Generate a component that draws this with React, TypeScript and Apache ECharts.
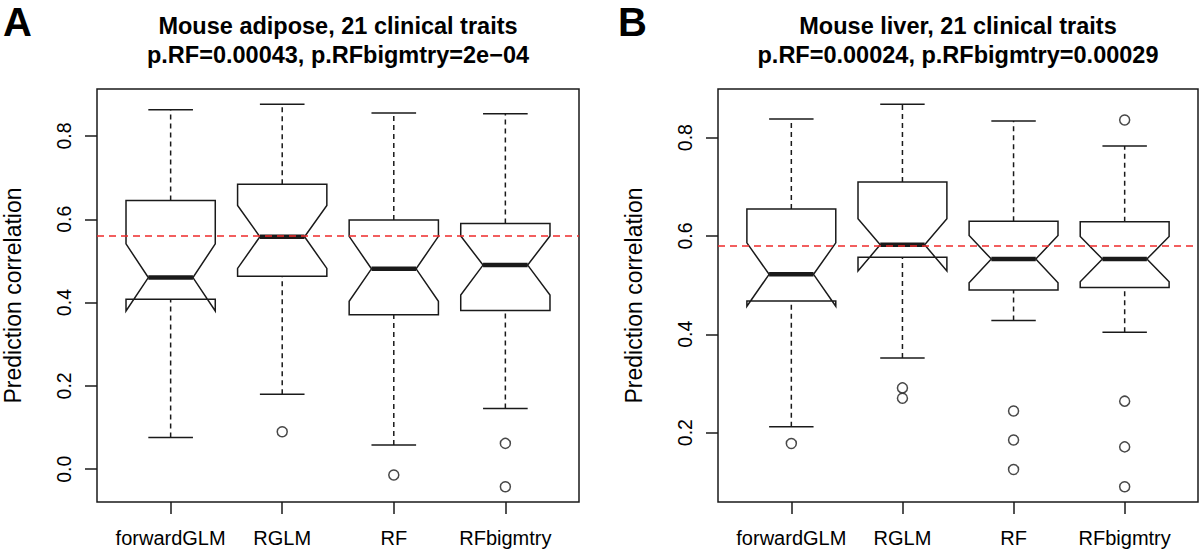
import React, { useEffect, useRef } from 'react';
import * as echarts from 'echarts';

const categories = ['forwardGLM', 'RGLM', 'RF', 'RFbigmtry'];

// per box: [lowWhisker, Q1, notchLow, median, notchHigh, Q3, highWhisker]
const adiposeBoxes = [
  [0.076, 0.408, 0.380, 0.460, 0.541, 0.645, 0.863],
  [0.180, 0.463, 0.482, 0.558, 0.633, 0.684, 0.876],
  [0.058, 0.371, 0.403, 0.481, 0.559, 0.598, 0.855],
  [0.146, 0.381, 0.418, 0.490, 0.560, 0.590, 0.853],
];
const adiposeOutliers = [[], [0.090], [-0.014], [0.062, -0.042]];
const adiposeRefLine = 0.558;
const adiposeTicks = [0, 0.2, 0.4, 0.6, 0.8];
const adiposeRange = [-0.0787, 0.9127];

const liverBoxes = [
  [0.212, 0.468, 0.457, 0.522, 0.586, 0.655, 0.838],
  [0.352, 0.557, 0.529, 0.582, 0.635, 0.710, 0.868],
  [0.428, 0.490, 0.505, 0.553, 0.601, 0.630, 0.834],
  [0.404, 0.495, 0.507, 0.553, 0.599, 0.629, 0.783],
];
const liverOutliers = [[0.178], [0.291, 0.270], [0.244, 0.185, 0.125], [0.836, 0.264, 0.171, 0.090]];
const liverRefLine = 0.582;
const liverTicks = [0.2, 0.4, 0.6, 0.8];
const liverRange = [0.0589, 0.899];

const panelLetters = ['A', 'B'];
const titleLines1 = ['Mouse adipose, 21 clinical traits', 'Mouse liver, 21 clinical traits'];
const titleLines2 = ['p.RF=0.00043, p.RFbigmtry=2e\u221204', 'p.RF=0.00024, p.RFbigmtry=0.00029'];
const yAxisName = 'Prediction correlation';

const FONT = '"Liberation Sans", Arial, Helvetica, sans-serif';
const INK = '#1a1a1a';
const RED = '#ee2a2a';

const grids = [
  { left: 97, top: 89, width: 482, height: 413 },
  { left: 718, top: 89, width: 480, height: 413 },
];

function renderBox(params: any, api: any) {
  const x = api.value(0);
  const wLo = api.value(1), q1 = api.value(2), nLo = api.value(3), med = api.value(4);
  const nHi = api.value(5), q3 = api.value(6), wHi = api.value(7);
  const W = 0.4, NW = 0.2, CAP = 0.2;
  const P = (dx: number, y: number) => api.coord([x + dx, y]);
  const seg = (a: number[], b: number[], style: any) => ({
    type: 'line',
    shape: { x1: a[0], y1: a[1], x2: b[0], y2: b[1] },
    style: Object.assign({ stroke: INK, lineWidth: 1.5 }, style),
  });
  return {
    type: 'group',
    children: [
      seg(P(0, wLo), P(0, q1), { lineDash: [5, 4] }),
      seg(P(0, q3), P(0, wHi), { lineDash: [5, 4] }),
      seg(P(-CAP, wLo), P(CAP, wLo), {}),
      seg(P(-CAP, wHi), P(CAP, wHi), {}),
      {
        type: 'polygon',
        shape: {
          points: [
            P(-W, q1), P(W, q1), P(W, nLo), P(NW, med), P(W, nHi), P(W, q3),
            P(-W, q3), P(-W, nHi), P(-NW, med), P(-W, nLo),
          ],
        },
        style: { fill: '#fff', stroke: INK, lineWidth: 1.5 },
      },
      seg(P(-NW, med), P(NW, med), { lineWidth: 4.5 }),
    ],
  };
}

export default function App() {
  const ref = useRef<HTMLDivElement>(null);
  useEffect(() => {
    if (!ref.current) return;
    const chart = echarts.init(ref.current, undefined, { renderer: 'svg' });
    const panels = [
      { boxes: adiposeBoxes, outliers: adiposeOutliers, refLine: adiposeRefLine, ticks: adiposeTicks, range: adiposeRange },
      { boxes: liverBoxes, outliers: liverOutliers, refLine: liverRefLine, ticks: liverTicks, range: liverRange },
    ];
    const catPos = categories.map((_, i) => i + 1);
    const option: any = {
      animation: false,
      grid: grids.map((g) => ({ ...g, show: true, borderColor: INK, borderWidth: 1.5, backgroundColor: 'transparent' })),
      xAxis: panels.map((_, k) => ({
        type: 'value',
        gridIndex: k,
        min: 0.34,
        max: 4.66,
        position: 'bottom',
        splitLine: { show: false },
        axisLine: { show: false, onZero: false },
        axisTick: { show: true, customValues: catPos, length: 12, lineStyle: { color: INK, width: 1.5 } },
        axisLabel: {
          customValues: catPos,
          formatter: (v: number) => categories[Math.round(v) - 1],
          fontSize: 20,
          color: '#000',
          margin: 26,
          fontFamily: FONT,
        },
      })),
      yAxis: panels.map((p, k) => ({
        type: 'value',
        gridIndex: k,
        min: p.range[0],
        max: p.range[1],
        position: 'left',
        splitLine: { show: false },
        axisLine: { show: false, onZero: false },
        axisTick: { show: true, customValues: p.ticks, length: 12, lineStyle: { color: INK, width: 1.5 } },
        axisLabel: {
          customValues: p.ticks,
          formatter: (v: number) => v.toFixed(1),
          rotate: 90,
          fontSize: 19.5,
          color: '#000',
          margin: 23,
          fontFamily: FONT,
        },
        name: yAxisName,
        nameLocation: 'middle',
        nameRotate: 90,
        nameGap: 73,
        nameTextStyle: { fontSize: 23, color: '#000', fontFamily: FONT },
      })),
      series: [] as any[],
      graphic: [] as any[],
    };
    panels.forEach((p, k) => {
      option.series.push({
        type: 'custom',
        xAxisIndex: k,
        yAxisIndex: k,
        renderItem: renderBox,
        data: p.boxes.map((b, i) => [i + 1, ...b]),
        z: 2,
      });
      const pts: number[][] = [];
      p.outliers.forEach((arr, i) => arr.forEach((v) => pts.push([i + 1, v])));
      option.series.push({
        type: 'scatter',
        xAxisIndex: k,
        yAxisIndex: k,
        symbol: 'circle',
        symbolSize: 10,
        itemStyle: { color: '#fff', borderColor: INK, borderWidth: 1.5 },
        data: pts,
        z: 3,
        markLine: {
          silent: true,
          symbol: ['none', 'none'],
          label: { show: false },
          lineStyle: { color: RED, type: [7, 5], width: 1.5 },
          data: [{ yAxis: p.refLine }],
          z: 5,
        },
      });
      const g = grids[k];
      const cx = g.left + g.width / 2;
      option.graphic.push(
        {
          type: 'text',
          x: k === 0 ? 3 : 618,
          y: 22,
          style: { text: panelLetters[k], fontSize: 40, fontWeight: 'bold', fontFamily: FONT, fill: '#000', align: 'left', verticalAlign: 'middle' },
        },
        {
          type: 'text',
          x: cx,
          y: 26,
          style: { text: titleLines1[k], fontSize: 23.5, fontWeight: 'bold', fontFamily: FONT, fill: '#000', align: 'center', verticalAlign: 'middle' },
        },
        {
          type: 'text',
          x: cx,
          y: 55,
          style: { text: titleLines2[k], fontSize: 23.5, fontWeight: 'bold', fontFamily: FONT, fill: '#000', align: 'center', verticalAlign: 'middle' },
        }
      );
    });
    chart.setOption(option);
    return () => chart.dispose();
  }, []);
  return <div ref={ref} style={{ position: 'fixed', left: 0, top: 0, width: 1200, height: 551, background: '#fff' }} />;
}
